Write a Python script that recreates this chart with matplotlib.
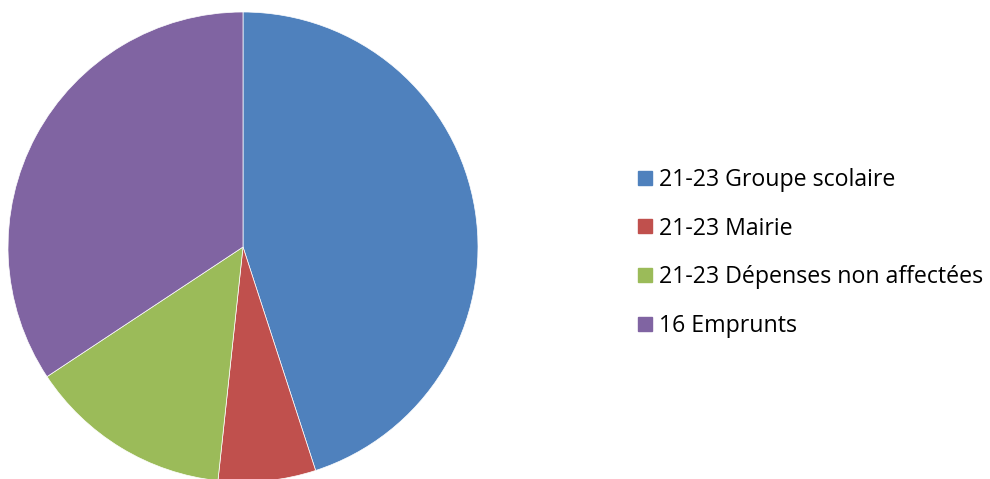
import matplotlib
matplotlib.use("Agg")
import matplotlib.pyplot as plt
from matplotlib.lines import Line2D

labels = ["21-23 Groupe scolaire", "21-23 Mairie", "21-23 Dépenses non affectées", "16 Emprunts"]
values = [45.0, 6.7, 14.0, 34.3]
colors = ["#4F81BD", "#C0504D", "#9BBB59", "#8064A2"]

plt.rcParams['font.family'] = ['Open Sans', 'DejaVu Sans']

fig = plt.figure(figsize=(9.9, 4.79), dpi=100)
ax = fig.add_axes([8/990, -3/479, 470/990, 470/479])
ax.pie(values, colors=colors, startangle=90, counterclock=False, radius=1,
       wedgeprops=dict(linewidth=0.5, edgecolor="white"))
ax.set_xlim(-1, 1)
ax.set_ylim(-1, 1)
ax.set_aspect('auto')
ax.axis('off')

handles = [Line2D([0], [0], marker='s', linestyle='none', markersize=10,
                  markerfacecolor=c, markeredgecolor=c) for c in colors]
leg = fig.legend(handles, labels, loc='center left', bbox_to_anchor=(635/990, (479 - 253)/479),
                 frameon=False, fontsize=16.7, handletextpad=0.15, labelspacing=1.07,
                 handlelength=0.9, borderaxespad=0, borderpad=0)
fig.savefig("out.png", dpi=100)
